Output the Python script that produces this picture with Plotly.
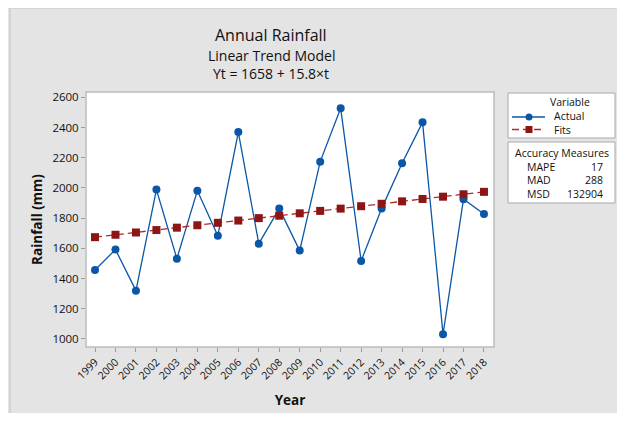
import plotly.graph_objects as go

years = list(range(1999, 2019))
actual = [1457, 1592, 1320, 1989, 1532, 1982, 1684, 2370, 1631, 1863,
          1585, 2174, 2527, 1517, 1863, 2163, 2434, 1032, 1925, 1828]
fits = [1674, 1690, 1705, 1721, 1737, 1753, 1769, 1784, 1800, 1816,
        1832, 1848, 1863, 1879, 1895, 1911, 1927, 1942, 1958, 1974]
y_ticks = [1000, 1200, 1400, 1600, 1800, 2000, 2200, 2400, 2600]
measure_names = ["MAPE", "MAD", "MSD"]
measure_values = ["17", "288", "132904"]
series_names = ["Actual", "Fits"]

# page body has an 8px margin: figure drawn at window offset (8, 8)
OFF = 8
W, H = 625 - 2 * OFF, 421 - 2 * OFF
ML, MT = 86 - OFF, 92 - OFF
PW, PH = 408, 255
MR, MB = W - ML - PW, H - MT - PH

def px(x):  # window pixel -> paper fraction
    return (x - OFF - ML) / PW

def py(y):
    return (H - MB - (y - OFF)) / PH

FONT = "Open Sans"
TXT = "#111111"
BLUE = "#0a57a8"
RED = "#8c1616"
RED_LINE = "#b02a2a"
BG = "#e4e4e4"
BOX_R = 615

fig = go.Figure()
fig.add_trace(go.Scatter(
    x=years, y=actual, mode="lines+markers", name=series_names[0],
    line=dict(color=BLUE, width=1.3),
    marker=dict(symbol="circle", size=8, color=BLUE),
))
fig.add_trace(go.Scatter(
    x=years, y=fits, mode="lines+markers", name=series_names[1],
    line=dict(color=RED_LINE, width=1.3, dash="7px,4px"),
    marker=dict(symbol="square", size=8, color=RED),
))

def P(x0, y0, x1, y1):
    return dict(xref="paper", yref="paper", x0=px(x0), x1=px(x1), y0=py(y1), y1=py(y0))

shapes = [
    # left / top border of the grey panel
    dict(type="line", **P(10, 8, 10, 440), line=dict(color="#cfcfcf", width=1.5)),
    dict(type="line", **P(10, 8, 640, 8), line=dict(color="#cfcfcf", width=1.5)),
    # plot frame
    dict(type="rect", xref="paper", yref="paper", layer="above",
         x0=0, x1=1, y0=0, y1=1, line=dict(color="#bcbcbc", width=1.5)),
    # legend box
    dict(type="rect", **P(508, 93, BOX_R, 138), fillcolor="white",
         line=dict(color="#a8a8a8", width=1)),
    # legend glyphs
    dict(type="line", **P(512, 117, 545, 117), line=dict(color=BLUE, width=1.3)),
    dict(type="circle", **P(525.5, 113.5, 532.5, 120.5), fillcolor=BLUE,
         line=dict(color=BLUE, width=0)),
    dict(type="line", **P(512, 129.5, 545, 129.5),
         line=dict(color=RED_LINE, width=1.3, dash="7px,4px")),
    dict(type="rect", **P(525.5, 126, 532.5, 133), fillcolor=RED,
         line=dict(color=RED, width=0)),
    # accuracy box
    dict(type="rect", **P(508, 142, BOX_R, 203), fillcolor="white",
         line=dict(color="#a8a8a8", width=1)),
]

def ann(text, x, y, size, xanchor="center"):
    return dict(text=text, x=px(x), y=py(y), xref="paper", yref="paper",
                xanchor=xanchor, yanchor="middle", showarrow=False,
                font=dict(size=size, color=TXT, family=FONT))

annotations = [
    ann("Annual Rainfall", 271, 35, 16),
    ann("Linear Trend Model", 271, 55, 14),
    ann("Yt = 1658 + 15.8×t", 271, 73, 14),
    ann("Variable", 570, 102, 10.5),
    ann(series_names[0], 552, 116, 10.5, "left"),
    ann(series_names[1], 552, 129.5, 10.5, "left"),
    ann("Accuracy Measures", 561.5, 153, 10.5),
]
for i, (n, v) in enumerate(zip(measure_names, measure_values)):
    yy = 166.5 + i * 13.7
    annotations.append(ann(n, 525, yy, 10.5, "left"))
    annotations.append(ann(v, 605, yy, 10.5, "right"))

fig.update_layout(
    width=W, height=H,
    margin=dict(l=ML, r=MR, t=MT, b=MB, autoexpand=False),
    paper_bgcolor=BG, plot_bgcolor="white",
    font=dict(family=FONT, color=TXT),
    showlegend=False,
    shapes=shapes,
    annotations=annotations,
    xaxis=dict(
        range=[1998.56, 2018.49], tickvals=years, ticktext=[str(y) for y in years],
        tickangle=-45, ticks="outside", ticklen=4, tickcolor="#9a9a9a",
        showgrid=False, zeroline=False, showline=False,
        tickfont=dict(size=10.5),
        title=dict(text="<b>Year</b>", font=dict(size=13.5), standoff=14),
    ),
    yaxis=dict(
        range=[947, 2635], tickvals=y_ticks,
        ticks="outside", ticklen=4, tickcolor="#9a9a9a",
        showgrid=False, zeroline=False, showline=False,
        tickfont=dict(size=11.5),
        title=dict(text="<b>Rainfall (mm)</b>", font=dict(size=13.5), standoff=6),
    ),
)

fig.write_html("out.html")
